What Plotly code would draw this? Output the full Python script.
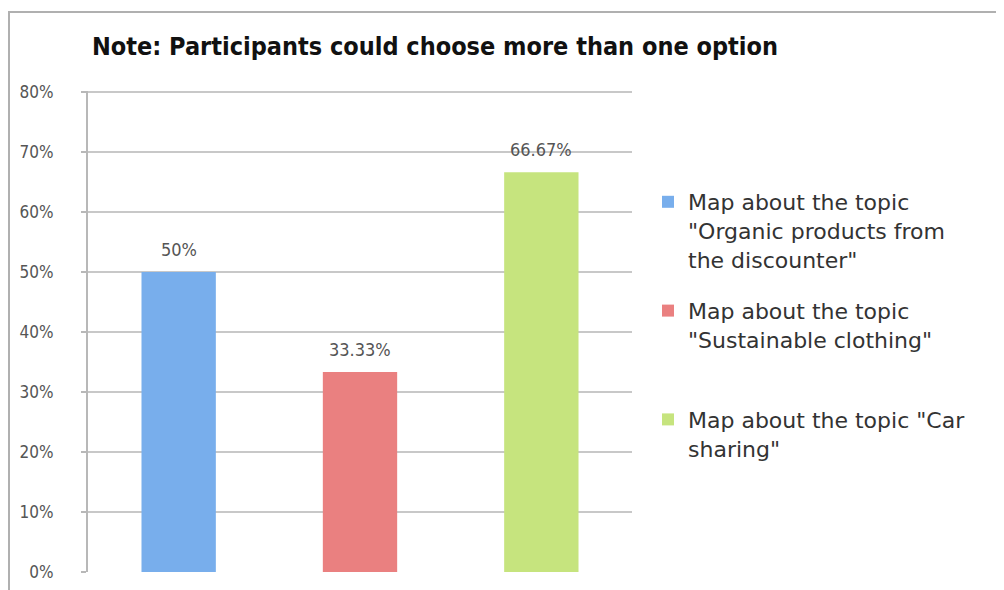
import plotly.graph_objects as go

categories = ["Organic products from the discounter", "Sustainable clothing", "Car sharing"]
legend_names = [
    'Map about the topic<br>"Organic products from<br>the discounter"',
    'Map about the topic<br>"Sustainable clothing"<br> ',
    'Map about the topic "Car<br>sharing"',
]
values = [50, 33.33, 66.67]
value_labels = ["50%", "33.33%", "66.67%"]
colors = ["#78aeec", "#ea8080", "#c6e47e"]
y_ticks = [0, 10, 20, 30, 40, 50, 60, 70, 80]
y_tick_labels = [f"{t}%" for t in y_ticks]

narrow = "Liberation Sans Narrow, DejaVu Sans Condensed, sans-serif"

# page body has an 8px margin; the figure is laid out in its own coordinates
W, H = 996, 582
L, R, T, B = 80, 372, 83, 18
PW, PH = W - L - R, H - T - B

fig = go.Figure()
for i, cat in enumerate(categories):
    fig.add_trace(go.Bar(
        x=[cat], y=[values[i]], name=legend_names[i],
        marker=dict(color=colors[i], line=dict(width=0)),
        width=0.41, legendgroup=str(i), hoverinfo="skip",
    ))
    fig.add_annotation(x=cat, y=values[i], text=value_labels[i], showarrow=False,
                       yanchor="bottom", yshift=10,
                       font=dict(family=narrow, size=18, color="#555555"))

fig.update_layout(
    width=W, height=H,
    barmode="overlay",
    paper_bgcolor="white", plot_bgcolor="white",
    margin=dict(l=L, r=R, t=T, b=B, autoexpand=False),
    title=dict(text="<b>Note: Participants could choose more than one option</b>",
               x=84/W, xanchor="left", y=1-38/H, yanchor="middle",
               font=dict(family=narrow, size=25, color="#111111")),
    showlegend=True,
    legend=dict(xref="container", yref="container", x=640/W, xanchor="left",
                y=1-173/H, yanchor="top", valign="top", maxheight=1,
                font=dict(family="DejaVu Sans, sans-serif", size=22, color="#333333"),
                tracegroupgap=20, itemwidth=30, bgcolor="rgba(0,0,0,0)"),
    xaxis=dict(showticklabels=False, showgrid=False, showline=False, zeroline=False,
               fixedrange=True, automargin=False),
    yaxis=dict(range=[0, 80.2], tickvals=y_ticks, ticktext=y_tick_labels,
               showgrid=True, gridcolor="#c8c8c8", gridwidth=2,
               showline=True, linecolor="#b8b8b8", linewidth=2,
               ticks="outside", ticklen=5, tickcolor="#b8b8b8", tickwidth=2,
               zeroline=False, automargin=False, ticklabelstandoff=24,
               tickfont=dict(family=narrow, size=17, color="#555555")),
    shapes=[dict(type="rect", xref="paper", yref="paper",
                 x0=-(L - 1)/PW, x1=(W + 5 - L)/PW, y0=-40/PH, y1=1+(T - 4)/PH,
                 line=dict(color="#b0b0b0", width=2), layer="below")],
)

fig.write_html("out.html")
